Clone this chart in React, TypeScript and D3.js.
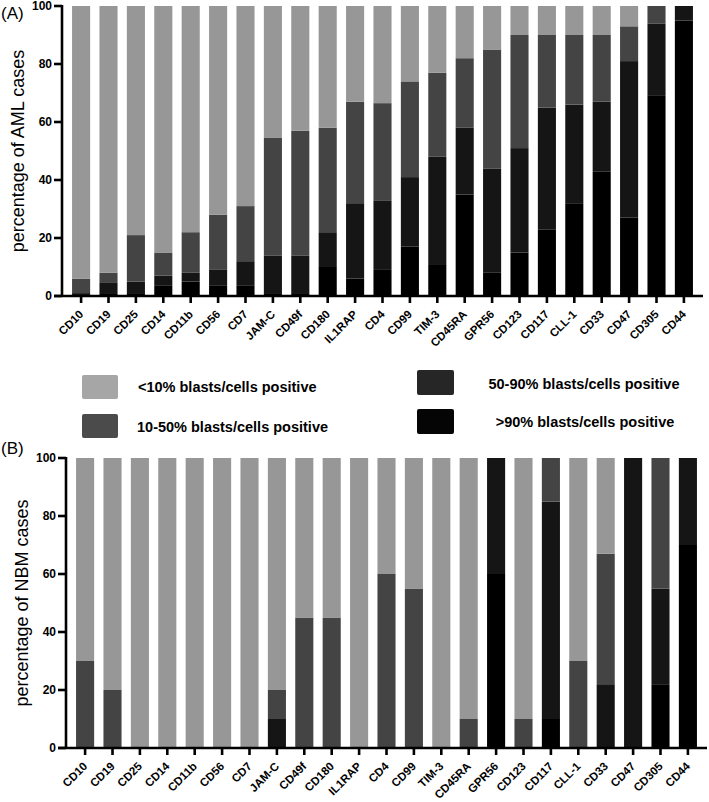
import React from "react";
import * as d3 from "d3";

const markers = ["CD10","CD19","CD25","CD14","CD11b","CD56","CD7","JAM-C","CD49f","CD180","IL1RAP","CD4","CD99","TIM-3","CD45RA","GPR56","CD123","CD117","CLL-1","CD33","CD47","CD305","CD44"];

// Panel A: AML cases (segment percentages)
const amlGt90  = [0, 1, 1, 3.5, 5, 3.5, 3.5, 1, 1, 10, 6, 9, 17, 11, 35, 8, 15, 23, 32, 43, 27, 69, 95];
const aml50_90 = [1, 3.5, 4, 3.5, 3, 5.5, 8.5, 13, 13, 12, 26, 24, 24, 37, 23, 36, 36, 42, 34, 24, 54, 25, 5];
const aml10_50 = [5, 3.5, 16, 8, 14, 19, 19, 40.5, 43, 36, 35, 33.5, 33, 29, 24, 41, 39, 25, 24, 23, 12, 6, 0];
const amlLt10  = [94, 92, 79, 85, 78, 72, 69, 45.5, 43, 42, 33, 33.5, 26, 23, 18, 15, 10, 10, 10, 10, 7, 0, 0];

// Panel B: NBM cases (segment percentages)
const nbmGt90  = [0, 0, 0, 0, 0, 0, 0, 0, 0, 0, 0, 0, 0, 0, 0, 60, 0, 10, 0, 0, 0, 22, 70];
const nbm50_90 = [0, 0, 0, 0, 0, 0, 0, 10, 0, 0, 0, 0, 0, 0, 0, 40, 0, 75, 0, 22, 100, 33, 30];
const nbm10_50 = [30, 20, 0, 0, 0, 0, 0, 10, 45, 45, 0, 60, 55, 0, 10, 0, 10, 15, 30, 45, 0, 45, 0];
const nbmLt10  = [70, 80, 100, 100, 100, 100, 100, 80, 55, 55, 100, 40, 45, 100, 90, 0, 90, 0, 70, 33, 0, 0, 0];

const yTicks = [0, 20, 40, 60, 80, 100];
const seriesKeys = ["gt90", "r50_90", "r10_50", "lt10"];
const barColors = ["#000000", "#151515", "#444444", "#979797"];
const legendItems = ["<10% blasts/cells positive", "10-50% blasts/cells positive", "50-90% blasts/cells positive", ">90% blasts/cells positive"];
const legendColors = ["#a6a6a6", "#4b4b4b", "#262626", "#050505"];

const FONT = "'Liberation Sans', Arial, Helvetica, sans-serif";

type PanelProps = {
  axisX: number;
  top: number;
  bottom: number;
  right: number;
  rows: number[][];
  yLabel: string;
  tag: string;
  tagY: number;
};

function Panel({ axisX, top, bottom, right, rows, yLabel, tag, tagY }: PanelProps) {
  const data = markers.map((m, i) => ({
    marker: m,
    gt90: rows[0][i],
    r50_90: rows[1][i],
    r10_50: rows[2][i],
    lt10: rows[3][i],
  }));
  const stacked = d3.stack<any>().keys(seriesKeys)(data);
  const x = d3.scaleBand<string>().domain(markers).range([axisX, right]).paddingInner(0.34).paddingOuter(0.367);
  const y = d3.scaleLinear().domain([0, 100]).range([bottom, top]);
  const bw = x.bandwidth();
  return (
    <g>
      {stacked.map((s, si) => (
        <g key={si} fill={barColors[si]}>
          {s.map((d, i) => {
            const h = y(d[0]) - y(d[1]);
            if (h <= 0) return null;
            return <rect key={i} x={x(markers[i])} y={y(d[1])} width={bw} height={h} />;
          })}
        </g>
      ))}
      <line x1={axisX} x2={axisX} y1={top - 1} y2={bottom} stroke="#000" strokeWidth={2.6} />
      <line x1={axisX - 8} x2={right} y1={bottom} y2={bottom} stroke="#000" strokeWidth={2.6} />
      {yTicks.map((t) => (
        <g key={t}>
          <line x1={axisX - 8} x2={axisX} y1={y(t)} y2={y(t)} stroke="#000" strokeWidth={2.6} />
          <text x={axisX - 10} y={y(t)} dy="0.35em" textAnchor="end" fontFamily={FONT} fontWeight="bold" fontSize={12}>
            {t}
          </text>
        </g>
      ))}
      {markers.map((m) => {
        const cx = (x(m) as number) + bw / 2;
        const ax = cx + 3;
        const ay = bottom + 19;
        return (
          <g key={m}>
            <line x1={cx} x2={cx} y1={bottom} y2={bottom + 7} stroke="#000" strokeWidth={2.6} />
            <text
              x={ax}
              y={ay}
              transform={`rotate(-45 ${ax} ${ay})`}
              textAnchor="end"
              fontFamily={FONT}
              fontWeight="bold"
              fontSize={11.5}
            >
              {m}
            </text>
          </g>
        );
      })}
      <text
        transform={`translate(${axisX - 38},${(top + bottom) / 2}) rotate(-90)`}
        textAnchor="middle"
        fontFamily={FONT}
        fontSize={18}
      >
        {yLabel}
      </text>
      <text x={1} y={tagY} fontFamily={FONT} fontSize={17}>
        {tag}
      </text>
    </g>
  );
}

export default function App() {
  return (
    <svg width={709} height={802} style={{ position: "absolute", left: 0, top: 0, background: "#fff" }}>
      <Panel axisX={62} top={6} bottom={296} right={703} rows={[amlGt90, aml50_90, aml10_50, amlLt10]} yLabel="percentage of AML cases" tag="(A)" tagY={19} />
      <Panel axisX={66} top={458} bottom={748} right={707} rows={[nbmGt90, nbm50_90, nbm10_50, nbmLt10]} yLabel="percentage of NBM cases" tag="(B)" tagY={454} />
      <g fontFamily={FONT} fontWeight="bold" fontSize={14.5}>
        <rect x={82} y={375} width={36} height={24} rx={2} fill={legendColors[0]} />
        <text x={138} y={387} dy="0.35em">{legendItems[0]}</text>
        <rect x={82} y={414} width={36} height={24} rx={2} fill={legendColors[1]} />
        <text x={137} y={427} dy="0.35em">{legendItems[1]}</text>
        <rect x={417} y={370} width={37} height={25} rx={2} fill={legendColors[2]} />
        <text x={584} y={384} dy="0.35em" textAnchor="middle">{legendItems[2]}</text>
        <rect x={417} y={409} width={37} height={25} rx={2} fill={legendColors[3]} />
        <text x={585} y={422} dy="0.35em" textAnchor="middle">{legendItems[3]}</text>
      </g>
    </svg>
  );
}
